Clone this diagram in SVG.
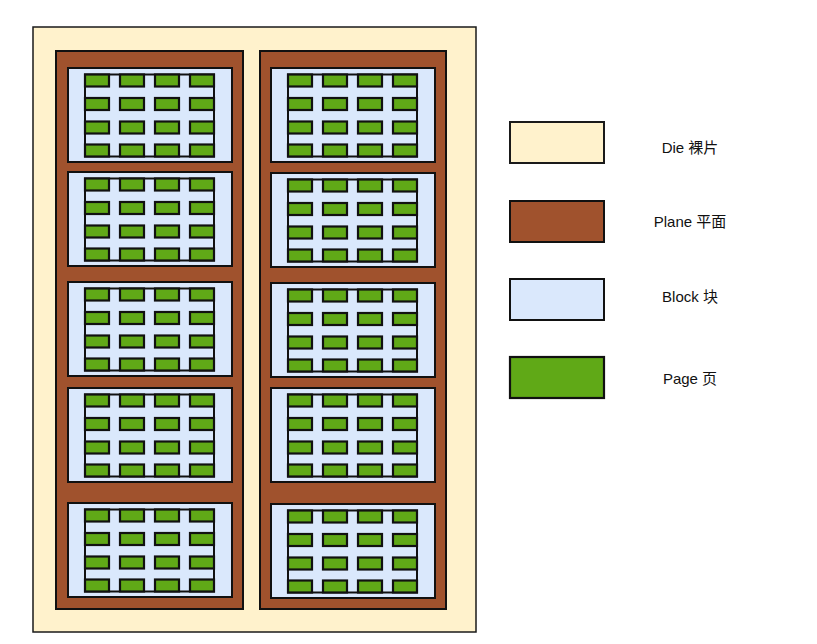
<svg xmlns="http://www.w3.org/2000/svg" xmlns:xlink="http://www.w3.org/1999/xlink" width="817" height="644" viewBox="0 0 817 644">
<style>
.die{fill:#FFF2CC;stroke:#1a1a1a;stroke-width:1.5}
.plane{fill:#A0522D;stroke:#111;stroke-width:2}
.block{fill:#DAE8FC;stroke:#111;stroke-width:2}
.grid{fill:#DAE8FC;stroke:#111;stroke-width:2}
.page{fill:#60A917;stroke:#111;stroke-width:2.2}
.lbl{font-family:"Liberation Sans","Noto Sans CJK SC",sans-serif;font-size:15px;fill:#111;text-anchor:middle;dominant-baseline:central}
</style>
<defs>
<g id="blk">
<rect class="block" x="0" y="0" width="164" height="94"/>
<rect class="grid" x="17" y="6.5" width="129" height="82"/>
<g id="row">
<rect class="page" x="17" y="6.5" width="24" height="12"/>
<rect class="page" x="52" y="6.5" width="24" height="12"/>
<rect class="page" x="87" y="6.5" width="24" height="12"/>
<rect class="page" x="122" y="6.5" width="24" height="12"/>
</g>
<use xlink:href="#row" y="23.5"/>
<use xlink:href="#row" y="47"/>
<use xlink:href="#row" y="70"/>
</g>
</defs>
<g id="die"><rect class="die" x="33" y="27" width="443" height="605"/></g>
<g id="plane-left"><rect class="plane" x="56" y="51" width="187" height="558"/></g>
<g id="plane-right"><rect class="plane" x="260" y="51" width="186" height="558"/></g>
<g id="block-l1"><use xlink:href="#blk" x="68" y="68"/></g>
<g id="block-l2"><use xlink:href="#blk" x="68" y="172"/></g>
<g id="block-l3"><use xlink:href="#blk" x="68" y="282"/></g>
<g id="block-l4"><use xlink:href="#blk" x="68" y="388"/></g>
<g id="block-l5"><use xlink:href="#blk" x="68" y="503"/></g>
<g id="block-r1"><use xlink:href="#blk" x="271" y="68"/></g>
<g id="block-r2"><use xlink:href="#blk" x="271" y="173"/></g>
<g id="block-r3"><use xlink:href="#blk" x="271" y="283"/></g>
<g id="block-r4"><use xlink:href="#blk" x="271" y="388"/></g>
<g id="block-r5"><use xlink:href="#blk" x="271" y="504"/></g>
<g id="legend-die"><rect class="die" x="510" y="122" width="94" height="41" style="stroke-width:2"/><text class="lbl" x="690" y="147">Die 裸片</text></g>
<g id="legend-plane"><rect class="plane" x="510" y="201" width="94" height="41"/><text class="lbl" x="690" y="221">Plane 平面</text></g>
<g id="legend-block"><rect class="block" x="510" y="279" width="94" height="41"/><text class="lbl" x="690" y="296">Block 块</text></g>
<g id="legend-page"><rect class="page" x="510" y="357" width="94" height="41"/><text class="lbl" x="690" y="378">Page 页</text></g>
<g id="connectors"></g>
</svg>
